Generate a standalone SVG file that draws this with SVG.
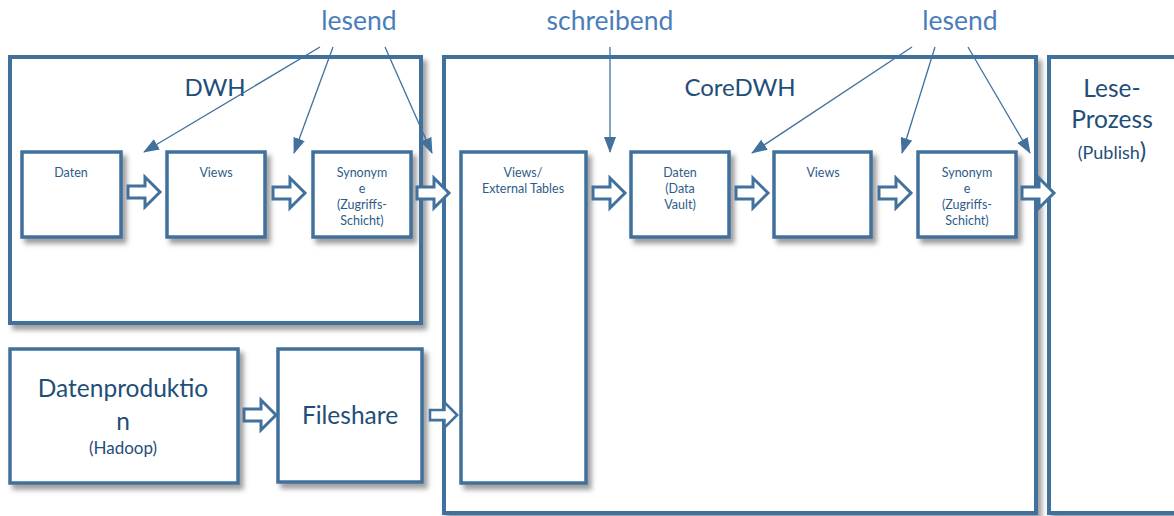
<svg xmlns="http://www.w3.org/2000/svg" width="1174" height="516" viewBox="0 0 1174 516">
<defs>
<filter id="sh" x="-10%" y="-10%" width="130%" height="130%">
<feDropShadow dx="4" dy="5" stdDeviation="2.5" flood-color="#7f7f7f" flood-opacity="0.75"/>
</filter>
<marker id="ah" viewBox="0 0 16 12" refX="15" refY="6" markerWidth="16" markerHeight="12" markerUnits="userSpaceOnUse" orient="auto">
<path d="M0,0 L16,6 L0,12 Z" fill="#41719c"/>
</marker>
<path id="blk" d="M0,-6 L17,-6 L17,-15 L32,0 L17,15 L17,6 L0,6 Z"/>
</defs>
<style>
.big{fill:#fff;stroke:#41719c;stroke-width:4;filter:url(#sh)}
.box{fill:#fff;stroke:#41719c;stroke-width:3.5;filter:url(#sh)}
.arr{fill:#fff;stroke:#41719c;stroke-width:3}
.ln{stroke:#41719c;stroke-width:1.3;fill:none;marker-end:url(#ah)}
text{font-family:Lato,"Open Sans","Liberation Sans",sans-serif;fill:#1f4e79;text-anchor:middle}
.lab{font-size:26.5px;fill:#4a7ebb}
.ttl{font-size:24px}
.sm{font-size:12.5px;fill:#2e5c8a}
.md{font-size:24.5px}
</style>
<g id="top-labels">
<text class="lab" x="359" y="30">lesend</text>
<text class="lab" x="610" y="30">schreibend</text>
<text class="lab" x="960" y="30">lesend</text>
</g>
<g id="dwh">
<rect class="big" x="10" y="57" width="411" height="266"/>
<text class="ttl" x="215" y="96">DWH</text>
</g>
<g id="coredwh">
<rect class="big" x="444" y="57" width="592" height="456"/>
<text class="ttl" x="740" y="96">CoreDWH</text>
</g>
<g id="lese">
<rect class="big" x="1049" y="57" width="140" height="456"/>
<text class="md" x="1112" y="97">Lese-</text>
<text class="md" x="1112" y="128">Prozess</text>
<text x="1112" y="159"><tspan style="font-size:18px">(Publish</tspan><tspan style="font-size:24px">)</tspan></text>
</g>
<g id="dwh-daten">
<rect class="box" x="22" y="152" width="99" height="85"/>
<text class="sm" x="71" y="177">Daten</text>
</g>
<g id="dwh-views">
<rect class="box" x="167" y="152" width="98" height="85"/>
<text class="sm" x="216" y="177">Views</text>
</g>
<g id="dwh-synonyme">
<rect class="box" x="313" y="152" width="98" height="85"/>
<text class="sm" x="362" y="177">Synonym</text>
<text class="sm" x="362" y="193">e</text>
<text class="sm" x="362" y="209">(Zugriffs-</text>
<text class="sm" x="362" y="225">Schicht)</text>
</g>
<g id="core-ext">
<rect class="box" x="461" y="152" width="125" height="331"/>
<text class="sm" x="523" y="177">Views/</text>
<text class="sm" x="523" y="193">External Tables</text>
</g>
<g id="core-daten">
<rect class="box" x="631" y="152" width="98" height="85"/>
<text class="sm" x="680" y="177">Daten</text>
<text class="sm" x="680" y="193">(Data</text>
<text class="sm" x="680" y="209">Vault)</text>
</g>
<g id="core-views">
<rect class="box" x="774" y="152" width="97" height="85"/>
<text class="sm" x="823" y="177">Views</text>
</g>
<g id="core-synonyme">
<rect class="box" x="918" y="152" width="98" height="85"/>
<text class="sm" x="967" y="177">Synonym</text>
<text class="sm" x="967" y="193">e</text>
<text class="sm" x="967" y="209">(Zugriffs-</text>
<text class="sm" x="967" y="225">Schicht)</text>
</g>
<g id="datenproduktion">
<rect class="box" x="10" y="349" width="228" height="134"/>
<text class="md" x="123" y="397">Datenproduktio</text>
<text class="md" x="123" y="430">n</text>
<text x="123" y="454" style="font-size:17px">(Hadoop)</text>
</g>
<g id="fileshare">
<rect class="box" x="278" y="349" width="144" height="133"/>
<text class="md" x="350" y="424">Fileshare</text>
</g>
<g id="connectors">
<use href="#blk" class="arr" transform="translate(128,192)"/>
<use href="#blk" class="arr" transform="translate(273,193)"/>
<use href="#blk" class="arr" transform="translate(417,193)"/>
<use href="#blk" class="arr" transform="translate(593,193)"/>
<use href="#blk" class="arr" transform="translate(736,193)"/>
<use href="#blk" class="arr" transform="translate(879,193)"/>
<use href="#blk" class="arr" transform="translate(1022,193)"/>
<use href="#blk" class="arr" transform="translate(244,415)"/>
<use href="#blk" class="arr" transform="translate(430,415) scale(0.85)"/>
<line class="ln" x1="320" y1="47" x2="144" y2="152"/>
<line class="ln" x1="333" y1="47" x2="294" y2="153"/>
<line class="ln" x1="385" y1="47" x2="432" y2="153"/>
<line class="ln" x1="610" y1="47" x2="610" y2="152"/>
<line class="ln" x1="912" y1="47" x2="752" y2="153"/>
<line class="ln" x1="935" y1="47" x2="902" y2="153"/>
<line class="ln" x1="968" y1="47" x2="1030" y2="153"/>
</g>
</svg>
